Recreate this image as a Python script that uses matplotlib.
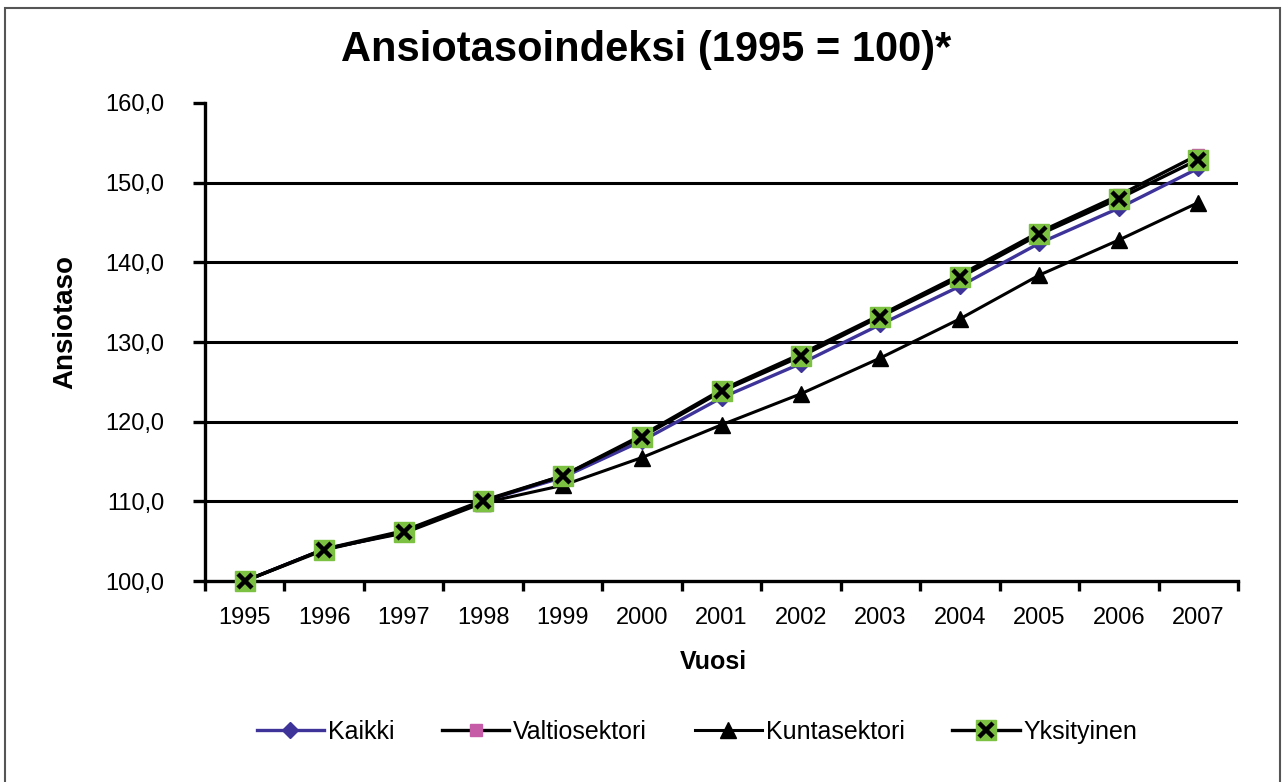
import numpy as np
import matplotlib.pyplot as plt
from matplotlib.patches import Rectangle
from matplotlib.legend_handler import HandlerTuple

# Data
years = ['1995', '1996', '1997', '1998', '1999', '2000', '2001',
         '2002', '2003', '2004', '2005', '2006', '2007']
kaikki = [100.0, 104.0, 106.1, 110.0, 113.0, 117.6, 123.0,
          127.3, 132.2, 137.0, 142.4, 146.8, 151.8]
valtiosektori = [100.0, 104.0, 106.3, 110.1, 113.2, 118.3, 124.0,
                 128.5, 133.4, 138.4, 143.8, 148.4, 153.5]
kuntasektori = [100.0, 104.0, 106.0, 109.8, 112.0, 115.5, 119.6,
                123.5, 128.0, 132.9, 138.4, 142.8, 147.5]
yksityinen = [100.0, 103.9, 106.2, 110.0, 113.2, 118.1, 123.8,
              128.2, 133.2, 138.1, 143.5, 148.0, 152.9]
yticks = [100, 110, 120, 130, 140, 150, 160]

plt.rcParams['font.family'] = ['Liberation Sans', 'DejaVu Sans']

W, H = 1285, 782
fig = plt.figure(figsize=(W / 100, H / 100), dpi=100)
ax = fig.add_axes([205 / W, 1 - 581 / H, (1238 - 205) / W, (581 - 103) / H])

x = np.arange(len(years))

# gridlines (none at the top value)
for v in yticks[1:-1]:
    ax.axhline(v, color='black', lw=2.2, zorder=1)

l1, = ax.plot(x, kaikki, color='#3D3399', lw=2.4, marker='D', ms=8,
              mfc='#3D3399', mec='#3D3399', zorder=3, clip_on=False)
l2, = ax.plot(x, valtiosektori, color='black', lw=2.4, marker='s', ms=9,
              mfc='#C65BA8', mec='#C65BA8', zorder=4, clip_on=False)
l3, = ax.plot(x, kuntasektori, color='black', lw=2.2, marker='^', ms=12,
              mfc='black', mec='black', zorder=5, clip_on=False)
l4, = ax.plot(x, yksityinen, color='black', lw=2.4, marker='s', ms=15,
              mfc='#7DC143', mec='#7DC143', zorder=6, clip_on=False)
l4x, = ax.plot(x, yksityinen, ls='none', marker='x', ms=10, mew=3.2,
               color='black', zorder=7, clip_on=False)

ax.set_xlim(-0.5, len(years) - 0.5)
ax.set_ylim(100, 160)

ax.set_xticks(np.arange(-0.5, len(years), 1))
ax.set_xticklabels([])
ax.set_xticks(x, minor=True)
ax.set_xticklabels(years, minor=True, fontsize=17)
ax.tick_params(axis='x', which='major', direction='out', length=7, width=2.4)
ax.tick_params(axis='x', which='minor', length=0, pad=19)

ax.set_yticks(yticks)
ax.set_yticklabels([f'{v},0' for v in yticks], fontsize=17)
ax.tick_params(axis='y', direction='out', length=9, width=2.4, pad=20)

for s in ['top', 'right']:
    ax.spines[s].set_visible(False)
for s in ['left', 'bottom']:
    ax.spines[s].set_linewidth(2.4)
    ax.spines[s].set_zorder(2)

fig.text(646 / W, 1 - 50 / H, 'Ansiotasoindeksi (1995 = 100)*',
         ha='center', va='center', fontsize=30, fontweight='bold',
         family=['Liberation Sans Narrow', 'Liberation Sans', 'DejaVu Sans'])
fig.text(65 / W, 1 - 322 / H, 'Ansiotaso', rotation=90, ha='center',
         va='center', fontsize=20, fontweight='bold')
fig.text(713 / W, 1 - 662 / H, 'Vuosi', ha='center', va='center',
         fontsize=18, fontweight='bold')

fig.legend([l1, l2, l3, (l4, l4x)],
           ['Kaikki', 'Valtiosektori', 'Kuntasektori', 'Yksityinen'],
           handler_map={tuple: HandlerTuple(ndivide=1, pad=0)},
           loc='center', bbox_to_anchor=(697 / W, 1 - 732 / H), ncol=4,
           frameon=False, fontsize=18, handlelength=2.7, handletextpad=0.15,
           columnspacing=1.9, numpoints=1)

fig.add_artist(Rectangle((5 / W, -0.02), (1280 - 5) / W, 1 - 8 / H + 0.02,
                         transform=fig.transFigure, fill=False,
                         edgecolor='#555555', lw=1.5))

fig.savefig('out.png', dpi=100)
